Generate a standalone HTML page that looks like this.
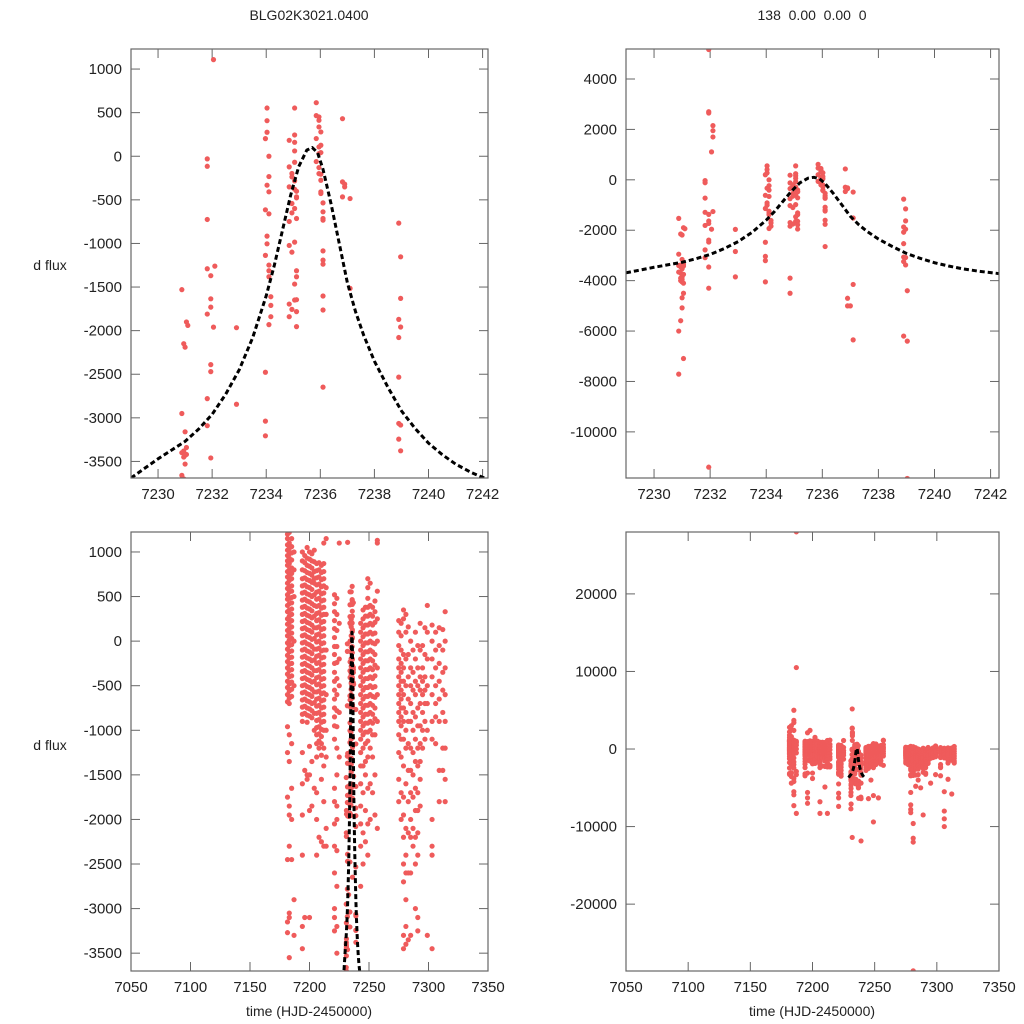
<!DOCTYPE html>
<html><head><meta charset="utf-8"><style>
html,body{margin:0;padding:0;background:#fff;overflow:hidden;}
svg{display:block;font-family:"Liberation Sans",sans-serif;}
</style></head><body>
<svg id="chart" width="1024" height="1024" viewBox="0 0 1024 1024" xmlns="http://www.w3.org/2000/svg">
<rect width="1024" height="1024" fill="#fff"/>
<text x="309" y="20" font-size="14" text-anchor="middle" fill="#222">BLG02K3021.0400</text>
<text x="812" y="20" font-size="14" text-anchor="middle" fill="#222" xml:space="preserve">138  0.00  0.00  0</text>
<text x="50" y="270" font-size="14" text-anchor="middle" fill="#222">d flux</text>
<text x="50" y="750" font-size="14" text-anchor="middle" fill="#222">d flux</text>
<text x="309" y="1016" font-size="14" text-anchor="middle" fill="#222">time (HJD-2450000)</text>
<text x="812" y="1016" font-size="14" text-anchor="middle" fill="#222">time (HJD-2450000)</text>
</svg>
<script>
// ---- data: observation nights [time, flux values] ----
const nightTimes = [7181.5,7183,7185,7187,7194,7196,7198,7200,7202,7204,7206,7208,7210,7212,7214,7221,7223,7225,
7230.88,7230.95,7231.0,7231.05,7231.1,7231.82,7231.95,7232.05,7232.1,7232.9,7233.97,7234.03,7234.1,7234.17,7234.85,7234.95,7235.05,7235.12,7235.85,7235.95,7236.02,7236.1,7236.82,7236.9,7237.0,7237.1,7238.9,7238.97,7239.03,
7243,7245,7247,7249,7251,7253,7255,7257,7275,7277,7279,7281,7283,7285,7287,7289,7291,7293,7295,7297,7299,7303,7306,7309,7312,7314];
const nightFlux = [
[1200,1150,1080,1020,960,900,850,780,720,650,590,520,470,400,330,250,190,120,60,-20,-90,-160,-230,-300,-370,-450,-520,-600,-680,-960,-1250,-1750,-2450,-3150,-3270,2200,2800,1800,1500],
[1220,1100,1040,980,930,870,800,740,680,610,550,480,420,350,280,210,140,80,10,-50,-120,-190,-260,-330,-400,-480,-560,-640,-700,-1050,-1350,-1850,-1950,-2300,-3550,-3050,2500,3000,1600,-3100,-4400],
[1150,1060,990,910,820,760,700,620,560,490,430,360,300,230,160,90,30,-40,-110,-180,-250,-320,-390,-460,-540,-620,-1150,-1650,-2000,-2450,3700,3400,5000,2400,-5500,-5900,-7300,-3800,-4200],
[10500,28000,1000,800,500,0,-500,-8300,-3300,-2900],
[1000,900,800,700,620,540,460,380,300,220,140,60,-20,-100,-180,-260,-340,-420,-500,-580,-660,-740,-820,-900,-1250,-1600,-1950,-2400,-3200,-3450],
[960,880,790,710,630,550,470,390,310,230,150,70,-10,-90,-170,-250,-330,-410,-490,-570,-650,-730,-810,-1450,-3100,2100,-5600,-6300,-7000],
[1050,930,850,770,690,610,530,450,370,290,210,130,50,-30,-110,-190,-270,-350,-430,-510,-590,-670,-750,-830,-910,-1500,-1550,2400],
[1000,920,840,760,680,600,520,440,360,280,200,120,40,-40,-120,-200,-280,-360,-440,-520,-600,-680,-760,-840,-1180,-1500,-1900,-3100,-3800],
[980,900,820,740,660,580,500,420,340,260,180,100,20,-60,-140,-220,-300,-380,-460,-540,-620,-700,-780,-860,-1350,-1850,1500],
[1020,890,780,650,520,400,280,150,30,-90,-210,-330,-450,-570,-690,-810,-1000,-1650,700],
[870,790,710,630,550,470,390,310,230,150,70,-10,-90,-170,-250,-330,-410,-490,-570,-650,-730,-810,-890,-970,-1050,-1150,-1300,-1700,-2000,-2400,-6800,-8300],
[880,800,720,640,560,480,400,320,240,160,80,0,-80,-160,-240,-320,-400,-480,-560,-640,-720,-800,-880,-960,-1040,-1120,-1200,-2200],
[850,770,690,610,530,450,370,290,210,130,50,-30,-110,-190,-270,-350,-430,-510,-590,-670,-750,-830,-910,-990,-1070,-1150,-1280,-1550,-2250,-4900],
[870,780,700,620,540,460,380,300,220,140,60,-20,-100,-180,-260,-340,-420,-500,-580,-660,-740,-820,-900,-1000,-1200,-1400,-1800,-2300,1100,-8300],
[1150,600,300,-100,-600,-1000,-1300,-2100,-2300],
[520,420,330,230,140,40,-60,-150,-250,-350,-450,-550,-650,-750,-850,-950,-1100,-1650,-1800,-2050,-2300,-2600,-3000,-3100,-3250,-4500,-5700,-6300,-7400],
[480,300,120,-60,-240,-420,-600,-780,-960,-1200,-1500,-1850,-2000,-2350,-2750,-3200,-3500],
[1100,200,-200,-500,-800,-1300],
[-1530,-2950,-3400,-3660,-7710,-6000],
[-2150,-3380,-3450,-3700,-3900,-4000,-5590],
[-2190,-3160,-3430,-3530,-3850,-3950,-4050,-4680,-5080],
[-1900,-3340,-3420,-3750,-4100,-4500,-7090],
[-1940],
[-30,-115,-725,-1290,-1810,-2780,-3090],
[-1370,-1635,-1730,-2390,-2470,-3460,-4300,-11400,5170,2700,2650],
[1108,-1960],
[-1260,2150,1950,1700],
[-1966,-2844,-3850],
[202,-614,-1137,-2477,-3038,-3206,-4050],
[553,408,275,-332,-916,-1004],
[0,-233,-408,-660,-1248,-1313,-1382,-1931],
[-1611,-1710,-1840],
[183,-122,-351,-748,-1023,-1695,-1840,-3900,-4500],
[-198,-237,-542,-649,-1100,-1756],
[553,244,160,61,-69,-283,-378,-599,-985,-1466,-1649],
[-401,-466,-477,-714,-1313,-1382,-1645,-1782,-1954],
[614,466,203,-61],
[451,412,336,107,31,-130,-199],
[279,126,42,-206,-275,-408,-427],
[-535,-637,-714,-733,-1085,-1191,-1237,-1603,-1763,-2648],
[431,-294,-466],
[-320,-351,-5000,-4700],
[-5000],
[-485,-1515,-4150,-6350],
[-767,-1871,-2079,-2533,-3064,-3244,-6200],
[-1153,-1630,-1958,-3083,-3378],
[-4400,-6400,-11850],
[200,100,0,-100,-200,-300,-400,-500,-600,-700,-800,-900,-1000,-1100,-1250,-1400,-1600,-1850,-2050,-2300,-2750],
[350,250,150,50,-50,-150,-250,-350,-450,-550,-650,-750,-850,-950,-1050,-1200,-1400,-1700,-2150,-2500,-6400],
[380,280,180,80,-20,-120,-220,-320,-420,-520,-620,-720,-820,-920,-1020,-1150,-1350,-1500,-1900,-2250,-4000],
[700,600,480,380,280,180,80,-20,-120,-220,-320,-420,-520,-620,-720,-820,-920,-1020,-1120,-1300,-1650,-2050,-2400,-9400,-6000],
[650,400,300,200,100,0,-100,-200,-300,-400,-500,-600,-700,-800,-900,-1000,-1200,-1600,-2000],
[380,280,180,80,-20,-120,-220,-320,-420,-520,-620,-720,-820,-920,-1050,-1300,-1700,-6300],
[450,330,210,90,-30,-150,-270,-390,-510,-630,-750,-870,-1050,-1500,-1950],
[560,250,0,-300,-600,-900,-2100,1100,1130],
[230,100,-50,-200,-300,-400,-500,-600,-700,-800,-900,-1050,-1250,-1550,-1800],
[200,60,-100,-250,-350,-450,-550,-650,-750,-850,-950,-1100,-1300,-1700,-2000],
[350,250,-150,-300,-450,-600,-750,-900,-1100,-1400,-1750,-1950,-2200,-2500,-2700,-3300,-3450,-5600,-7200,-7800,-8200],
[300,100,-200,-500,-800,-1000,-1200,-1600,-2100,-2400,-2600,-2900,-3200,-3400,-9600,-11500,-12000,-28600],
[160,-150,-400,-650,-900,-1150,-1450,-1800,-2150,-2600,-3350,-4800],
[0,-300,-500,-700,-900,-1200,-1450,-1700,-2000,-2200,-2600,-3300,-4000],
[-100,-350,-550,-800,-1000,-1250,-1500,-1750,-2100,-2300,-5000],
[100,-200,-450,-600,-850,-1100,-1350,-1650,-1900,-2200,-2500,-3000,-8500],
[-50,-300,-500,-750,-950,-1200,-1400,-1700,-1900,-2150,-2400,-3100,-3250],
[200,-100,-400,-550,-700,-950,-1150,-1350,-1550,-1850],
[-50,-300,-450,-600,-800,-1000,-1200,-4400],
[150,-150,-400,-550,-700,-900,-1100],
[400,100,-200,-500,-700,-1000,-3300],
[180,0,-200,-400,-600,-900,-1100,-2000,-2300,-2400,-3450],
[100,-100,-300,-500,-700,-850,-1150,-5500,-8000,-9000,-10000],
[150,-50,-250,-450,-650,-900,-1450,-1800,-3900],
[130,-100,-350,-550,-800,-1200,-1450,-5800],
[330,0,-300,-600,-900,-1200,-1550,-1800]
];
// ---- model curve ----
const modelT = [7229,7229.5,7230,7230.5,7231,7231.5,7232,7232.5,7233,7233.5,7234,7234.3,7234.6,7234.9,7235.2,7235.5,7235.7,7235.9,7236.1,7236.4,7236.7,7237,7237.3,7237.6,7238,7238.5,7239,7239.5,7240,7240.5,7241,7241.6,7242.3];
const modelF = [-3690,-3580,-3470,-3370,-3270,-3130,-2960,-2730,-2450,-2080,-1600,-1250,-850,-450,-120,70,100,40,-150,-550,-1000,-1450,-1780,-2050,-2350,-2650,-2920,-3120,-3290,-3420,-3530,-3630,-3720];
// ---- tick labels ----
const ticksXZoom = [7230,7232,7234,7236,7238,7240,7242];
const ticksXFull = [7050,7100,7150,7200,7250,7300,7350];
const ticksYSmall = [1000,500,0,-500,-1000,-1500,-2000,-2500,-3000,-3500];
const ticksYTopRight = [4000,2000,0,-2000,-4000,-6000,-8000,-10000];
const ticksYBotRight = [20000,10000,0,-10000,-20000];

const NS = "http://www.w3.org/2000/svg";
const svg = document.getElementById('chart');
function mk(tag, attrs, parent){const e=document.createElementNS(NS,tag);for(const k in attrs)e.setAttribute(k,attrs[k]);(parent||svg).appendChild(e);return e;}

const panels = [
 {id:'top-left', x0:131,x1:488,y0:49,y1:478, xr:[7229,7242.2], yr:[-3690,1230], xt:ticksXZoom, yt:ticksYSmall},
 {id:'top-right', x0:626,x1:999,y0:49,y1:478, xr:[7229,7242.3], yr:[-11830,5190], xt:ticksXZoom, yt:ticksYTopRight},
 {id:'bottom-left', x0:131,x1:488,y0:532,y1:971, xr:[7050,7350], yr:[-3700,1224], xt:ticksXFull, yt:ticksYSmall},
 {id:'bottom-right', x0:626,x1:999,y0:532,y1:971, xr:[7050,7350], yr:[-28620,27980], xt:ticksXFull, yt:ticksYBotRight}
];

panels.forEach((p,pi)=>{
  const sx = t => p.x0 + (t-p.xr[0])/(p.xr[1]-p.xr[0])*(p.x1-p.x0);
  const sy = v => p.y1 - (v-p.yr[0])/(p.yr[1]-p.yr[0])*(p.y1-p.y0);
  const g = mk('g',{});
  
  
  const cp = mk('clipPath',{id:'clip'+pi}, g);
  mk('rect',{x:p.x0,y:p.y0,width:p.x1-p.x0,height:p.y1-p.y0}, cp);
  p.xt.forEach(t=>{
    const x=sx(t);
    mk('line',{x1:x,x2:x,y1:p.y1,y2:p.y1-9,stroke:'#666','stroke-width':1},g);
    mk('line',{x1:x,x2:x,y1:p.y0,y2:p.y0+9,stroke:'#666','stroke-width':1},g);
    const lb = mk('text',{x:x,y:p.y1+21,'font-size':15,'text-anchor':'middle',fill:'#222'},g);
    lb.textContent = t;
    
    
  });
  p.yt.forEach(v=>{
    const y=sy(v);
    mk('line',{x1:p.x0,x2:p.x0+9,y1:y,y2:y,stroke:'#666','stroke-width':1},g);
    mk('line',{x1:p.x1,x2:p.x1-9,y1:y,y2:y,stroke:'#666','stroke-width':1},g);
    const lb = mk('text',{x:p.x0-9,y:y+5,'font-size':15,'text-anchor':'end',fill:'#222'},g);
    lb.textContent = v;
    
    
  });
  const pg = mk('g',{'clip-path':'url(#clip'+pi+')',fill:'#ef5b5b'},g);
  
  
  nightTimes.forEach((t,i)=>{
    if(t<p.xr[0]-1||t>p.xr[1]+1) return;
    nightFlux[i].forEach(v=>{
      const c = mk('circle',{cx:sx(t).toFixed(2),cy:sy(v).toFixed(2),r:2.6},pg);
      
      
    });
  });
  const d = modelT.map((t,i)=>(i?'L':'M')+sx(t).toFixed(2)+','+sy(modelF[i]).toFixed(2)).join(' ');
  const ml = mk('path',{d:d,fill:'none',stroke:'#000','stroke-width':3,'stroke-dasharray':'5,3','stroke-linejoin':'round','clip-path':'url(#clip'+pi+')'},g);
  
  
  const fr = mk('rect',{x:p.x0,y:p.y0,width:p.x1-p.x0,height:p.y1-p.y0,fill:'none',stroke:'#666','stroke-width':1.2},g);
  
  
});
</script>
</body></html>
